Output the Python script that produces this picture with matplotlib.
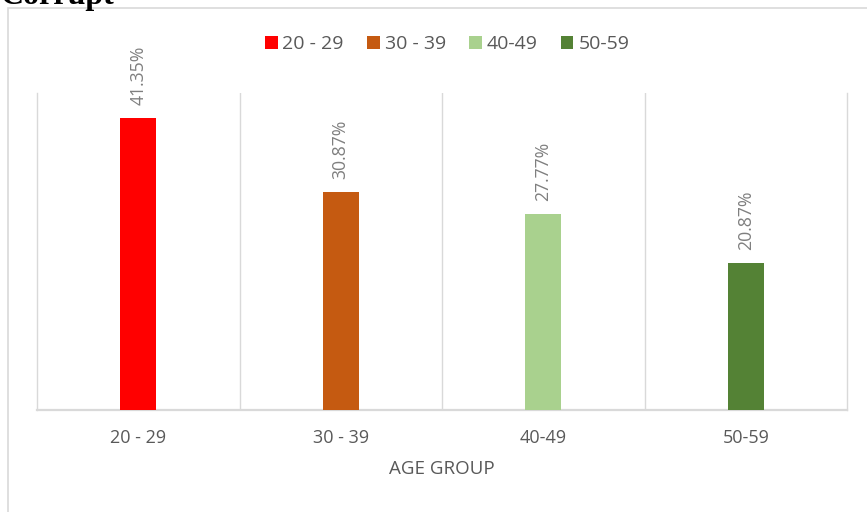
import matplotlib
matplotlib.use("Agg")
import matplotlib.pyplot as plt
from matplotlib.patches import Rectangle, Patch

categories = ["20 - 29", "30 - 39", "40-49", "50-59"]
values = [41.35, 30.87, 27.77, 20.87]
labels = ["41.35%", "30.87%", "27.77%", "20.87%"]
colors = ["#FF0000", "#C55A11", "#A9D18E", "#548235"]
title = "Corrupt"
xlabel = "AGE GROUP"

plt.rcParams['font.family'] = ['Open Sans', 'DejaVu Sans']

W, H = 867, 512
fig = plt.figure(figsize=(W / 100, H / 100), dpi=100)

# chart border
fig.patches.append(Rectangle((8 / W, -0.1), 1.2, (H - 8) / H + 0.1, transform=fig.transFigure,
                             fill=False, edgecolor="#d9d9d9", linewidth=1.2))

fig.text(0 / W, 1 - 4 / H, title, family="Liberation Serif", fontweight="bold",
         fontsize=23, va="baseline", ha="left", color="black")

L, R, T, B = 37, 847, 93, 410
ax = fig.add_axes([L / W, 1 - B / H, (R - L) / W, (B - T) / H])
x = list(range(len(categories)))
bars = ax.bar(x, values, width=0.18, color=colors, zorder=3)
ax.set_xlim(-0.5, len(categories) - 0.5)
ax.set_ylim(0, 44.9)
ax.set_yticks([])
for b in [0.5, 1.5, 2.5]:
    ax.axvline(b, color="#d9d9d9", linewidth=1.0, zorder=1)
ax.spines["top"].set_visible(False)
for s in ["left", "right"]:
    ax.spines[s].set_color("#d9d9d9")
    ax.spines[s].set_linewidth(1.0)
ax.spines["bottom"].set_color("#d9d9d9")
ax.spines["bottom"].set_linewidth(1.6)
ax.set_xticks(x)
ax.set_xticklabels(categories, color="#595959", fontsize=13)
ax.tick_params(axis="x", length=0, pad=14)
ax.set_xlabel(xlabel, color="#595959", fontsize=13.5, labelpad=9)

for xi, v, lab in zip(x, values, labels):
    ax.annotate(lab, (xi, v), xytext=(0, 9.4), textcoords="offset points",
                rotation=90, ha="center", va="bottom", color="#7f7f7f", fontsize=12.7)

handles = [Patch(facecolor=c, edgecolor="none") for c in colors]
fig.legend(handles, categories, loc="center", bbox_to_anchor=(447 / W, 1 - 44 / H),
           ncol=4, frameon=False, fontsize=14, handlelength=0.65, handleheight=0.65,
           handletextpad=0.25, columnspacing=1.2, labelcolor="#595959")

fig.savefig("out.png", dpi=100)
